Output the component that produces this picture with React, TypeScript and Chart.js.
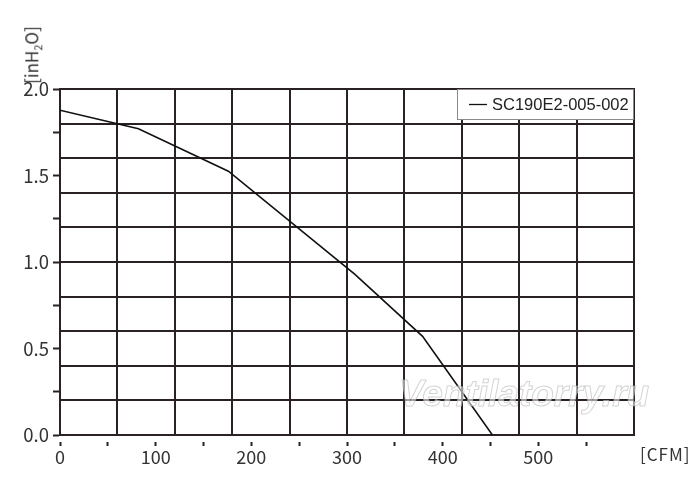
import React, { useEffect, useRef } from 'react';
import { Chart, registerables } from 'chart.js';

Chart.register(...registerables);

const flowCFM = [0, 82, 176, 308, 379, 452];
const pressureInH2O = [1.877, 1.77, 1.525, 0.93, 0.57, 0];
const seriesLabel = 'SC190E2-005-002';

const xTickValues = [0, 50, 100, 150, 200, 250, 300, 350, 400, 450, 500, 550];
const xLabelValues = [0, 100, 200, 300, 400, 500];
const yTickValues = [0, 0.25, 0.5, 0.75, 1.0, 1.25, 1.5, 1.75, 2.0];
const yLabelValues = [0, 0.5, 1.0, 1.5, 2.0];
const xGridValues = [0, 60, 120, 180, 240, 300, 360, 420, 480, 540, 600];
const yGridValues = [0, 0.2, 0.4, 0.6, 0.8, 1.0, 1.2, 1.4, 1.6, 1.8, 2.0];

const X_MAX = 600;
const Y_MAX = 2.0;
const INK = '#2a2222';
const TEXT = '#333333';
const AXIS_FONT = "'Noto Sans CJK JP', 'Noto Sans', sans-serif";

const legendPlugin = {
  id: 'boxLegend',
  afterDraw(chart: any) {
    const { ctx, chartArea } = chart;
    // watermark
    ctx.save();
    ctx.font = "italic bold 37px 'Liberation Sans', sans-serif";
    ctx.textBaseline = 'alphabetic';
    ctx.textAlign = 'left';
    ctx.fillStyle = 'rgba(255,255,255,0.55)';
    ctx.strokeStyle = 'rgba(175,175,175,0.55)';
    ctx.lineWidth = 1;
    ctx.fillText('Ventilatorry.ru', 399, 406);
    ctx.strokeText('Ventilatorry.ru', 399, 406);
    ctx.restore();

    // legend box
    const w = 177;
    const h = 31;
    const x0 = chartArea.right - w;
    const y0 = chartArea.top;
    ctx.save();
    ctx.fillStyle = '#ffffff';
    ctx.fillRect(x0, y0, w, h);
    ctx.strokeStyle = '#8a8a8a';
    ctx.lineWidth = 1;
    ctx.strokeRect(x0 + 0.5, y0 + 0.5, w - 1, h - 1);
    ctx.strokeStyle = '#111';
    ctx.lineWidth = 1.3;
    ctx.beginPath();
    ctx.moveTo(x0 + 12, y0 + 15.5);
    ctx.lineTo(x0 + 30, y0 + 15.5);
    ctx.stroke();
    ctx.fillStyle = '#222';
    ctx.font = "16.5px 'Liberation Sans', Arial, sans-serif";
    ctx.textBaseline = 'middle';
    ctx.textAlign = 'left';
    ctx.fillText(chart.data.datasets[0].label, x0 + 35, y0 + 16);
    ctx.restore();
  },
};

export default function App() {
  const canvasRef = useRef<HTMLCanvasElement | null>(null);

  useEffect(() => {
    document.body.style.margin = '0';
    const canvas = canvasRef.current;
    if (!canvas) return;
    const chart = new Chart(canvas, {
      type: 'line',
      data: {
        datasets: [
          {
            label: seriesLabel,
            data: flowCFM.map((x, i) => ({ x, y: pressureInH2O[i] })),
            borderColor: '#111111',
            borderWidth: 1.6,
            pointRadius: 0,
            tension: 0,
            fill: false,
          },
        ],
      },
      options: {
        animation: false,
        responsive: false,
        maintainAspectRatio: false,
        events: [],
        layout: { padding: { left: 0, top: 89, right: 66, bottom: 0 } },
        plugins: {
          legend: { display: false },
          tooltip: { enabled: false },
          title: { display: false },
        },
        scales: {
          xg: {
            type: 'linear',
            position: 'top',
            min: 0,
            max: X_MAX,
            afterBuildTicks: (s: any) => {
              s.ticks = xGridValues.map((v) => ({ value: v }));
            },
            afterFit: (s: any) => {
              s.height = 0;
            },
            ticks: { display: false },
            grid: { color: INK, lineWidth: 2, drawTicks: false },
            border: { display: true, color: INK, width: 2 },
          },
          yg: {
            type: 'linear',
            position: 'right',
            min: 0,
            max: Y_MAX,
            afterBuildTicks: (s: any) => {
              s.ticks = yGridValues.map((v) => ({ value: v }));
            },
            afterFit: (s: any) => {
              s.width = 0;
            },
            ticks: { display: false },
            grid: { color: INK, lineWidth: 2, drawTicks: false },
            border: { display: true, color: INK, width: 2 },
          },
          x: {
            type: 'linear',
            position: 'bottom',
            min: 0,
            max: X_MAX,
            afterBuildTicks: (s: any) => {
              s.ticks = xTickValues.map((v) => ({ value: v }));
            },
            afterFit: (s: any) => {
              s.height = 59;
            },
            ticks: {
              color: TEXT,
              font: { family: AXIS_FONT, size: 18 },
              padding: 0,
              maxRotation: 0,
              autoSkip: false,
              callback: (v: any) => (xLabelValues.includes(Number(v)) ? String(v) : ''),
            },
            grid: {
              drawOnChartArea: false,
              drawTicks: true,
              tickLength: 11,
              tickColor: INK,
              tickWidth: 2,
              tickBorderDash: [5, 6],
              tickBorderDashOffset: 5,
            },
            border: { display: true, color: INK, width: 2 },
          },
          y: {
            type: 'linear',
            position: 'left',
            min: 0,
            max: Y_MAX,
            afterBuildTicks: (s: any) => {
              s.ticks = yTickValues.map((v) => ({ value: v }));
            },
            afterFit: (s: any) => {
              s.width = 60;
            },
            ticks: {
              color: TEXT,
              font: { family: AXIS_FONT, size: 18.5 },
              padding: 4,
              autoSkip: false,
              callback: (v: any) =>
                yLabelValues.some((l) => Math.abs(l - Number(v)) < 1e-9) ? Number(v).toFixed(1) : '',
            },
            grid: {
              drawOnChartArea: false,
              drawTicks: true,
              tickLength: 7,
              tickColor: INK,
              tickWidth: 2,
            },
            border: { display: true, color: INK, width: 2 },
          },
        },
      },
      plugins: [legendPlugin],
    } as any);
    return () => chart.destroy();
  }, []);

  return (
    <div style={{ position: 'relative', width: 700, height: 494, background: '#fff' }}>
      <canvas ref={canvasRef} width={700} height={494} style={{ display: 'block', width: 700, height: 494 }} />
      <div
        style={{
          position: 'absolute',
          left: 33,
          top: 55,
          transform: 'translate(-50%, -50%) rotate(-90deg)',
          font: `17px ${AXIS_FONT}`,
          color: TEXT,
          whiteSpace: 'nowrap',
          lineHeight: 1,
        }}
      >
        [inH<sub style={{ fontSize: 11 }}>2</sub>O]
      </div>
      <div
        style={{
          position: 'absolute',
          left: 640,
          top: 444,
          font: `17px ${AXIS_FONT}`,
          color: TEXT,
          letterSpacing: 1,
          whiteSpace: 'nowrap',
          lineHeight: 1.2,
        }}
      >
        [CFM]
      </div>
    </div>
  );
}
